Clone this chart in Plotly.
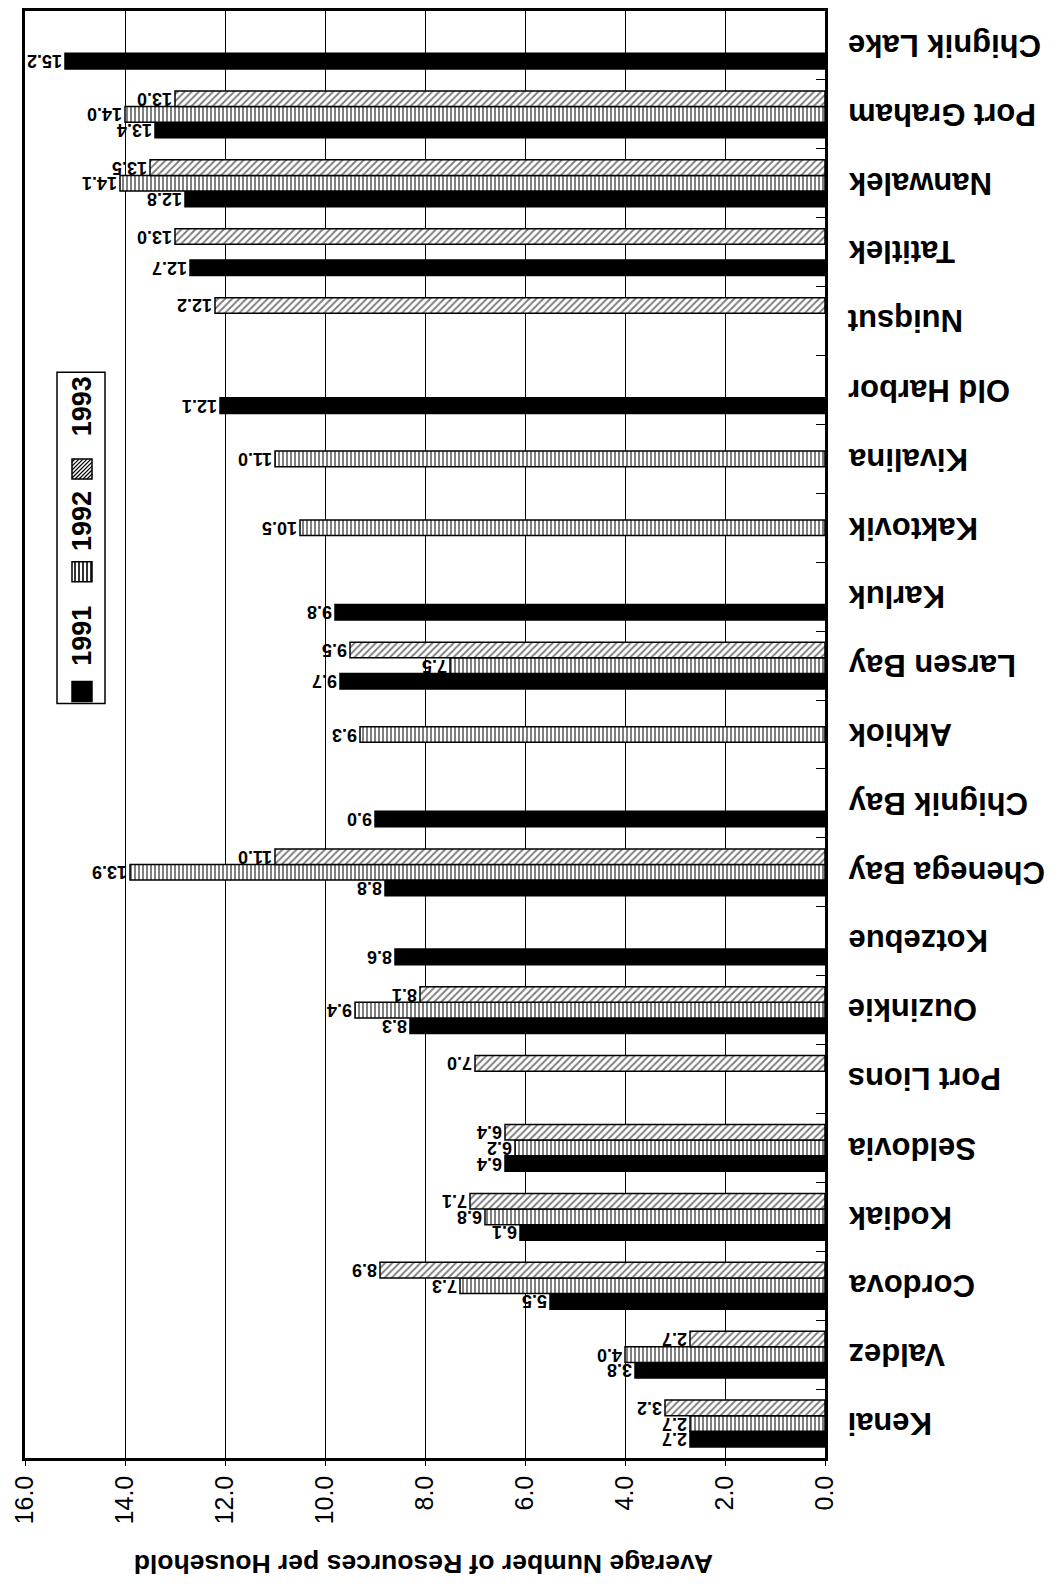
import plotly.graph_objects as go

# Communities, listed bottom to top on the category axis
communities = [
    "Kenai", "Valdez", "Cordova", "Kodiak", "Seldovia", "Port Lions",
    "Ouzinkie", "Kotzebue", "Chenega Bay", "Chignik Bay", "Akhiok",
    "Larsen Bay", "Karluk", "Kaktovik", "Kivalina", "Old Harbor",
    "Nuiqsut", "Tatitlek", "Nanwalek", "Port Graham", "Chignik Lake",
]

# Average number of resources per household, by study year (None = not surveyed)
y1991 = [2.7, 3.8, 5.5, 6.1, 6.4, None, 8.3, 8.6, 8.8, 9.0, None,
         9.7, 9.8, None, None, 12.1, None, 12.7, 12.8, 13.4, 15.2]
y1992 = [2.7, 4.0, 7.3, 6.8, 6.2, None, 9.4, None, 13.9, None, 9.3,
         7.5, None, 10.5, 11.0, None, None, None, 14.1, 14.0, None]
y1993 = [3.2, 2.7, 8.9, 7.1, 6.4, 7.0, 8.1, None, 11.0, None, None,
         9.5, None, None, None, None, 12.2, 13.0, 13.5, 13.0, None]

x_ticks = [0, 2, 4, 6, 8, 10, 12, 14, 16]
axis_title = "Average Number of Resources per Household"
legend_labels = ["1991", "1992", "1993"]

FONT = "Arial, Liberation Sans, sans-serif"
W, H = 1061, 1584
PL, PR, PT, PB = 25, 825, 8, 1458


def px(x):
    return (x - PL) / (PR - PL)


def py(y):
    return (PB - y) / (PB - PT)


series = [
    (y1991, dict(color="black")),
    (y1992, dict(color="white",
                 pattern=dict(shape="|", fgcolor="black", bgcolor="white",
                              size=4, solidity=0.5, fillmode="overlay"))),
    (y1993, dict(color="white",
                 pattern=dict(shape="/", fgcolor="black", bgcolor="white",
                              size=5, solidity=0.4, fillmode="overlay"))),
]

fig = go.Figure()
for (vals, mk), name in zip(series, legend_labels):
    mk = dict(mk)
    mk["line"] = dict(color="black", width=1.5)
    fig.add_trace(go.Bar(
        y=communities, x=vals, orientation="h", name=name, marker=mk,
        texttemplate="%{x:.1f}", textposition="outside", textangle=180,
        constraintext="none", cliponaxis=False,
        textfont=dict(family=FONT, size=18, color="black", weight="bold"),
        showlegend=False,
    ))

fig.update_layout(
    width=W, height=H,
    margin=dict(l=PL, r=W - PR, t=PT, b=H - PB),
    paper_bgcolor="white", plot_bgcolor="white",
    barmode="group", bargap=0.32, bargroupgap=0,
    font=dict(family=FONT, color="black"),
)

fig.update_xaxes(
    range=[16, 0], tickvals=x_ticks, tickformat=".1f",
    tickangle=-90, tickfont=dict(size=25, family=FONT),
    ticks="outside", ticklen=5, tickcolor="black",
    showgrid=True, gridcolor="black", gridwidth=1,
    showline=True, linecolor="black", linewidth=2.5, mirror=True,
    zeroline=False,
)
fig.update_yaxes(
    side="right", categoryorder="array", categoryarray=communities,
    showticklabels=False,
    ticks="inside", tickson="boundaries", ticklen=9, tickcolor="black",
    showline=True, linecolor="black", linewidth=2.5, mirror=True,
    showgrid=False, zeroline=False,
)

# Community names, upside down beside the category axis
for name in communities:
    fig.add_annotation(
        text=name, xref="paper", yref="y", x=px(846), y=name,
        xanchor="left", yanchor="middle", showarrow=False, textangle=180,
        font=dict(size=31, family=FONT, weight="bold"),
    )

# Axis title, upside down below the value axis
fig.add_annotation(
    text=axis_title, xref="paper", yref="paper", x=px(424), y=py(1564),
    xanchor="center", yanchor="middle",
    showarrow=False, textangle=180,
    font=dict(size=26.5, family=FONT, weight="bold"),
)

# Legend box with vertically-set entries
shapes = [dict(type="rect", xref="paper", yref="paper",
               x0=px(57), x1=px(105), y0=py(702), y1=py(370),
               line=dict(color="black", width=1.5), fillcolor="white",
               layer="below")]


def sq(x0, y0, x1, y1, fill):
    return dict(type="rect", xref="paper", yref="paper",
                x0=px(x0), x1=px(x1), y0=py(y1), y1=py(y0),
                line=dict(color="black", width=1.5), fillcolor=fill)


def seg(xa, ya, xb, yb, w=1.3):
    return dict(type="line", xref="paper", yref="paper",
                x0=px(xa), y0=py(ya), x1=px(xb), y1=py(yb),
                line=dict(color="black", width=w))


# 1991 swatch: solid
shapes.append(sq(72, 680, 92, 700, "black"))
# 1992 swatch: vertical stripes
shapes.append(sq(72, 560, 92, 580, "white"))
for xs in range(75, 92, 4):
    shapes.append(seg(xs, 560, xs, 580, 1.6))
# 1993 swatch: diagonal hatch
x0, y0, x1, y1 = 72, 457, 92, 477
shapes.append(sq(x0, y0, x1, y1, "white"))
for c in range(x0 + y0 + 3, x1 + y1, 4):
    xa = max(x0, c - y1)
    xb = min(x1, c - y0)
    if xb > xa:
        shapes.append(seg(xa, c - xa, xb, c - xb, 1.2))
fig.update_layout(shapes=shapes)

for label, yc in zip(legend_labels, [634, 519, 404]):
    fig.add_annotation(
        text=label, xref="paper", yref="paper", x=px(82), y=py(yc),
        xanchor="center", yanchor="middle",
        showarrow=False, textangle=-90,
        font=dict(size=27, family=FONT, weight="bold"),
    )

fig.write_html("out.html")
